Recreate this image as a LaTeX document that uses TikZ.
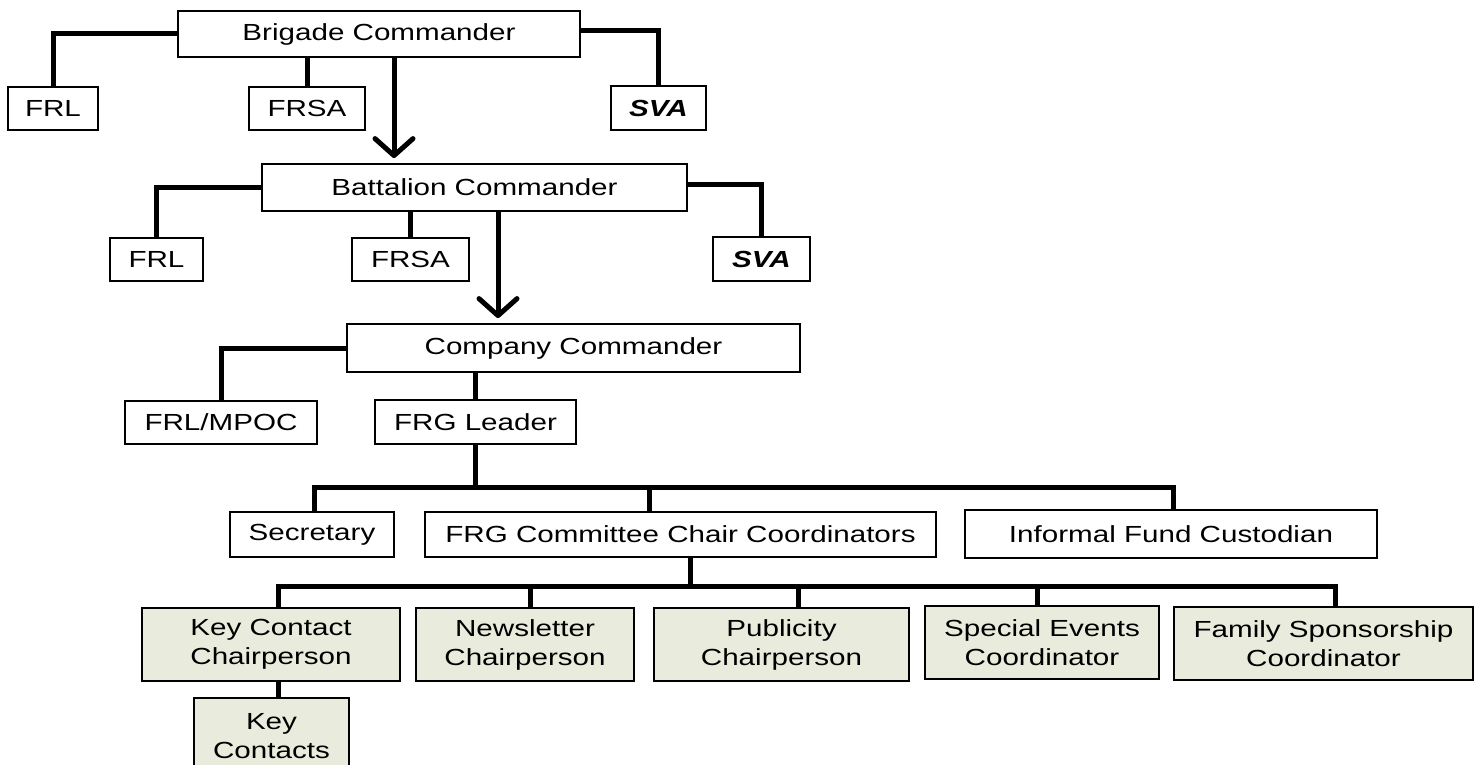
\documentclass[tikz,border=0pt]{standalone}
\usepackage{fontspec}
\setmainfont[FakeStretch=1.27]{Liberation Sans}
\usetikzlibrary{arrows.meta}
\definecolor{boxgreen}{HTML}{E9EBDC}
\begin{document}
\begin{tikzpicture}[x=1pt,y=-1pt,
  box/.style={draw=black,line width=1.8pt,fill=white,inner sep=0pt,
    font=\fontsize{23.3}{29}\selectfont,align=center},
  gbox/.style={box,fill=boxgreen},
  conn/.style={line width=5pt,line join=miter},
  downarrow/.style={line width=5pt,-{Straight Barb[length=17pt,width=38pt,round]},shorten >=5pt}]
\useasboundingbox (0,0) rectangle (1481,765);
\clip (0,0) rectangle (1481,765);
% level 1
\node[box,minimum width=402pt,minimum height=46pt] (brig) at (379,34) {Brigade Commander};
\node[box,minimum width=90pt,minimum height=43pt] (frl1) at (53,108.5) {FRL};
\node[box,minimum width=116pt,minimum height=43pt] (frsa1) at (307,108.5) {FRSA};
\node[box,minimum width=95pt,minimum height=44pt] (sva1) at (658.5,108) {\bfseries\itshape SVA};
% level 2
\node[box,minimum width=425pt,minimum height=47pt] (bat) at (474.5,187.5) {Battalion Commander};
\node[box,minimum width=93pt,minimum height=43pt] (frl2) at (156.5,259.5) {FRL};
\node[box,minimum width=117pt,minimum height=43pt] (frsa2) at (410.5,259.5) {FRSA};
\node[box,minimum width=97pt,minimum height=44pt] (sva2) at (761.5,259) {\bfseries\itshape SVA};
% level 3
\node[box,minimum width=453pt,minimum height=48pt] (comp) at (573.5,348) {Company Commander};
\node[box,minimum width=192pt,minimum height=43pt] (mpoc) at (221,422.5) {FRL/MPOC};
\node[box,minimum width=201pt,minimum height=44pt] (frgl) at (475.5,422) {FRG Leader};
% level 4
\node[box,minimum width=164pt,minimum height=45pt] (sec) at (312,534.5) {Secretary};
\node[box,minimum width=511pt,minimum height=45pt] (cc) at (680.5,534.5) {FRG Committee Chair Coordinators};
\node[box,minimum width=412pt,minimum height=48pt] (ifc) at (1171,534) {Informal Fund Custodian};
% level 5
\node[gbox,minimum width=258pt,minimum height=73pt] (kcc) at (271,644.5) {Key Contact\\Chairperson};
\node[gbox,minimum width=218pt,minimum height=73pt] (news) at (525,644.5) {Newsletter\\Chairperson};
\node[gbox,minimum width=255pt,minimum height=73pt] (pub) at (781.5,644.5) {Publicity\\Chairperson};
\node[gbox,minimum width=234pt,minimum height=73pt] (spec) at (1042,642.5) {Special Events\\Coordinator};
\node[gbox,minimum width=299pt,minimum height=73pt] (fam) at (1323.5,643.5) {Family Sponsorship\\Coordinator};
\node[gbox,minimum width=155pt,minimum height=76pt] (kc) at (271.5,736) {Key\\Contacts};
% connectors level 1
\draw[conn] (brig.west) -| (frl1.north);
\draw[conn] (brig.south -| frsa1.north) -- (frsa1.north);
\draw[conn] ([yshift=3pt]brig.east) -| (sva1.north);
\draw[downarrow] ([xshift=15pt]brig.south) -- ([xshift=15pt]brig.south |- bat.north);
% connectors level 2
\draw[conn] (bat.west) -| (frl2.north);
\draw[conn] (bat.south -| frsa2.north) -- (frsa2.north);
\draw[conn] ([yshift=3pt]bat.east) -| (sva2.north);
\draw[downarrow] ([xshift=23.5pt]bat.south) -- ([xshift=23.5pt]bat.south |- comp.north);
% connectors level 3
\draw[conn] (comp.west) -| (mpoc.north);
\draw[conn] (comp.south -| frgl.north) -- (frgl.north);
% level 4 bus
\coordinate (b1) at ([yshift=-43pt]frgl.south);
\draw[conn] (frgl.south) -- (b1);
\draw[conn] ([xshift=2pt]sec.north) |- (b1) -| ([xshift=2pt]ifc.north);
\draw[conn] ([xshift=-31.5pt]cc.north) -- ([xshift=-31.5pt]cc.north |- b1);
% level 5 bus
\coordinate (b2) at ([xshift=9.5pt,yshift=-29pt]cc.south);
\draw[conn] ([xshift=9.5pt]cc.south) -- (b2);
\draw[conn] ([xshift=7pt]kcc.north) |- (b2) -| ([xshift=11.5pt]fam.north);
\draw[conn] ([xshift=5pt]news.north) -- ([xshift=5pt]news.north |- b2);
\draw[conn] ([xshift=16.5pt]pub.north) -- ([xshift=16.5pt]pub.north |- b2);
\draw[conn] ([xshift=-5pt]spec.north) -- ([xshift=-5pt]spec.north |- b2);
\draw[conn] ([xshift=7pt]kcc.south) -- ([xshift=7pt]kcc.south |- kc.north);
\end{tikzpicture}
\end{document}
